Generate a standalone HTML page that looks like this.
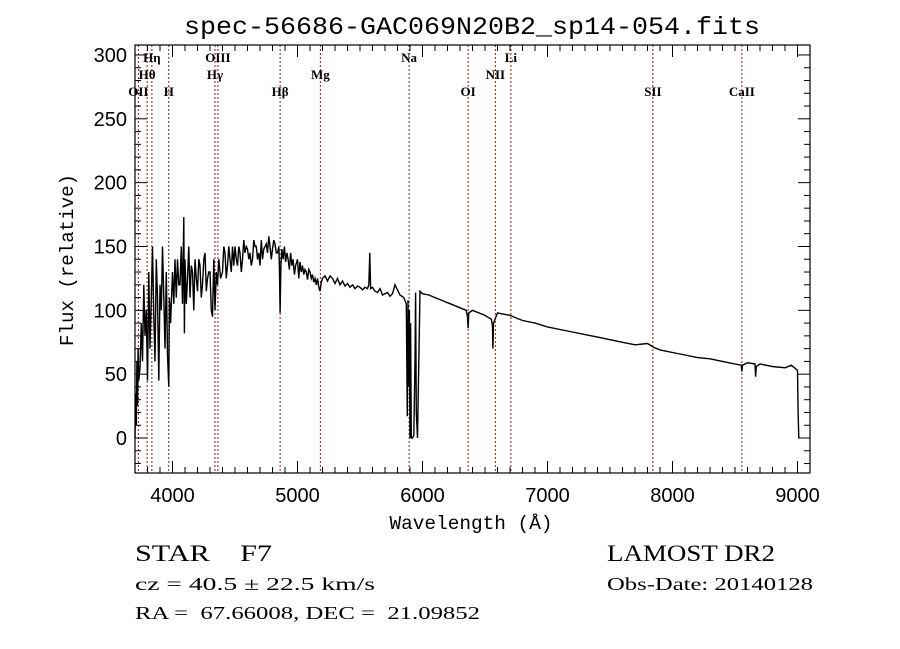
<!DOCTYPE html>
<html><head><meta charset="utf-8"><style>
html,body{margin:0;padding:0;background:#fff;}
body{width:900px;height:649px;overflow:hidden;position:relative;}
svg{position:absolute;left:0;top:0;}
text{white-space:pre;}
</style></head><body>
<svg id="chart" width="900" height="649" viewBox="0 0 900 649" xmlns="http://www.w3.org/2000/svg" xml:space="preserve">
<text x="472" y="34" text-anchor="middle" font-family="Liberation Mono, monospace" font-size="25" textLength="576" lengthAdjust="spacingAndGlyphs">spec-56686-GAC069N20B2_sp14-054.fits</text>
<g id="lines"></g>
<g id="spec"></g>
<g id="axes"></g>
<text x="471" y="529" text-anchor="middle" font-family="Liberation Mono, monospace" font-size="19" textLength="163" lengthAdjust="spacingAndGlyphs">Wavelength (Å)</text>
<text transform="translate(73,260) rotate(-90)" text-anchor="middle" font-family="Liberation Mono, monospace" font-size="19" textLength="172" lengthAdjust="spacingAndGlyphs">Flux (relative)</text>
<g font-family="Liberation Serif, serif" fill="#000">
<text x="135" y="561" font-size="23" textLength="137" lengthAdjust="spacingAndGlyphs">STAR    F7</text>
<text x="135" y="590" font-size="18" textLength="240" lengthAdjust="spacingAndGlyphs">cz = 40.5 ± 22.5 km/s</text>
<text x="135" y="619" font-size="18" textLength="345" lengthAdjust="spacingAndGlyphs">RA =  67.66008, DEC =  21.09852</text>
<text x="607" y="561" font-size="23" textLength="168" lengthAdjust="spacingAndGlyphs">LAMOST DR2</text>
<text x="607" y="590" font-size="18" textLength="206" lengthAdjust="spacingAndGlyphs">Obs-Date: 20140128</text>
</g>
</svg>
<script>
const wl = [
3700,3705,3710,3715,3720,3725,3730,3740,3750,3760,
3770,3780,3790,3800,3810,3820,3830,3840,3850,3860,
3870,3880,3890,3900,3910,3920,3930,3940,3950,3960,
3970,3975,3985,4000,4010,4020,4030,4040,4050,4060,
4070,4080,4090,4095,4100,4110,4120,4130,4140,4150,
4160,4170,4180,4190,4200,4210,4220,4230,4240,4250,
4260,4270,4280,4290,4300,4310,4320,4330,4340,4350,
4360,4370,4385,4400,4410,4420,4430,4440,4450,4460,
4470,4480,4490,4500,4510,4520,4530,4540,4550,4560,
4570,4580,4590,4600,4610,4620,4630,4640,4650,4660,
4670,4680,4690,4700,4710,4720,4730,4740,4750,4760,
4770,4780,4790,4800,4810,4820,4830,4840,4850,4855,
4861,4867,4875,4885,4895,4905,4915,4925,4935,4945,
4955,4965,4975,4985,5000,5010,5020,5030,5040,5050,
5060,5070,5080,5090,5100,5110,5120,5130,5140,5150,
5160,5170,5180,5190,5200,5220,5240,5260,5280,5300,
5320,5340,5360,5380,5400,5420,5440,5460,5480,5500,
5520,5540,5560,5570,5578,5585,5600,5620,5640,5660,
5680,5700,5720,5740,5760,5780,5800,5820,5850,5870,
5878,5884,5890,5895,5900,5905,5910,5920,5930,5940,
5945,5950,5960,5980,6000,6050,6100,6150,6200,6250,
6300,6350,6360,6365,6370,6400,6450,6500,6550,6560,
6563,6568,6600,6650,6700,6750,6800,6900,7000,7100,
7200,7300,7400,7500,7600,7700,7800,7850,7900,8000,
8100,8200,8300,8400,8500,8550,8555,8560,8600,8660,
8665,8670,8700,8800,8900,8950,9000,9005,9010];
const flux = [
0,35,10,60,25,70,45,55,90,60,
120,80,100,45,130,70,110,150,95,60,
140,110,45,120,100,150,110,70,130,65,
40,110,90,130,105,140,110,140,120,120,
150,105,173,82,140,105,125,150,110,135,
130,100,140,125,115,140,135,110,120,140,
145,115,125,130,130,100,95,140,100,130,
120,140,125,130,150,145,125,135,150,140,
130,150,135,150,140,135,150,145,130,140,
155,145,150,148,140,145,135,140,155,150,
150,140,145,135,155,140,148,150,152,145,
158,150,140,148,155,152,145,145,150,135,
98,135,148,140,150,138,145,140,132,145,
135,140,128,135,140,125,138,130,135,128,
132,130,124,132,130,125,128,122,125,120,
125,118,115,122,125,127,123,127,125,121,
125,120,123,119,121,118,120,117,119,118,
116,118,117,120,145,117,118,115,114,117,
112,113,114,111,113,120,116,112,110,105,
17,108,40,100,0,90,0,0,2,60,
114,20,0,115,113,112,110,108,106,104,
102,100,95,86,98,100,98,96,93,88,
70,90,98,97,96,94,92,90,87,85,
83,81,79,77,75,73,74,71,69,67,
65,63,62,60,58,57,52,57,59,58,
48,56,58,56,55,57,53,20,0];
const lineWl = [3727,3797,3835,3970,4340,4363,4861,5183,5893,6365,6583,6707,7843,8555];
const lineNames = ["OII","Hθ","Hη","H","Hγ","OIII","Hβ","Mg","Na","OI","NII","Li","SII","CaII"];
const lineRow = [2,1,0,2,1,0,2,1,0,2,1,0,2,2];
const xTicks = [4000,5000,6000,7000,8000,9000];
const yTicks = [0,50,100,150,200,250,300];

const X0=135,X1=810,Y0=45,Y1=473;
const xmin=3700,xmax=9100,ymin=-27.4,ymax=307.8;
const sx=v=>X0+(v-xmin)/(xmax-xmin)*(X1-X0);
const sy=v=>Y1-(v-ymin)/(ymax-ymin)*(Y1-Y0);
const NS="http://www.w3.org/2000/svg";
function mk(tag,attrs,parent){const e=document.createElementNS(NS,tag);for(const k in attrs)e.setAttribute(k,attrs[k]);parent.appendChild(e);return e;}

const gl=document.getElementById('lines');
lineWl.forEach((w,i)=>{
  const l=mk('line',{x1:sx(w),x2:sx(w),y1:Y0,y2:Y1,stroke:'#8b1a1a','stroke-width':1,'stroke-dasharray':'2,2'},gl);
  
  
  const t=mk('text',{x:sx(w),y:62+lineRow[i]*17,'text-anchor':'middle','font-family':'Liberation Serif, DejaVu Serif, serif','font-size':13,'font-weight':'bold'},gl);
  t.textContent=lineNames[i];
  
  
});

const gs=document.getElementById('spec');
let d='';
const n=Math.min(wl.length,flux.length);
for(let i=0;i<n;i++){d+=(i?'L':'M')+sx(wl[i]).toFixed(1)+','+sy(Math.max(flux[i],ymin)).toFixed(1);}
const p=mk('path',{d:d,fill:'none',stroke:'#000','stroke-width':1.4,'stroke-linejoin':'miter'},gs);



const ga=document.getElementById('axes');
const box=mk('rect',{x:X0,y:Y0,width:X1-X0,height:Y1-Y0,fill:'none',stroke:'#000','stroke-width':1.2},ga);


for(let w=3700;w<=9100;w+=100){
  const maj=w%1000===0, len=maj?12:6, x=sx(w);
  mk('line',{x1:x,x2:x,y1:Y1,y2:Y1-len,stroke:'#000'},ga);
  mk('line',{x1:x,x2:x,y1:Y0,y2:Y0+len,stroke:'#000'},ga);
}
for(let v=-20;v<=300;v+=10){
  const maj=v%50===0, len=maj?12:6, y=sy(v);
  mk('line',{x1:X0,x2:X0+len,y1:y,y2:y,stroke:'#000'},ga);
  mk('line',{x1:X1,x2:X1-len,y1:y,y2:y,stroke:'#000'},ga);
}
xTicks.forEach(v=>{
  const t=mk('text',{x:sx(v),y:502,'text-anchor':'middle','font-family':'Liberation Sans, sans-serif','font-size':20},ga);
  t.textContent=v;
  
  
});
yTicks.forEach(v=>{
  const t=mk('text',{x:127,y:sy(v)+7,'text-anchor':'end','font-family':'Liberation Sans, sans-serif','font-size':20},ga);
  t.textContent=v;
  
  
});
</script>
</body></html>
